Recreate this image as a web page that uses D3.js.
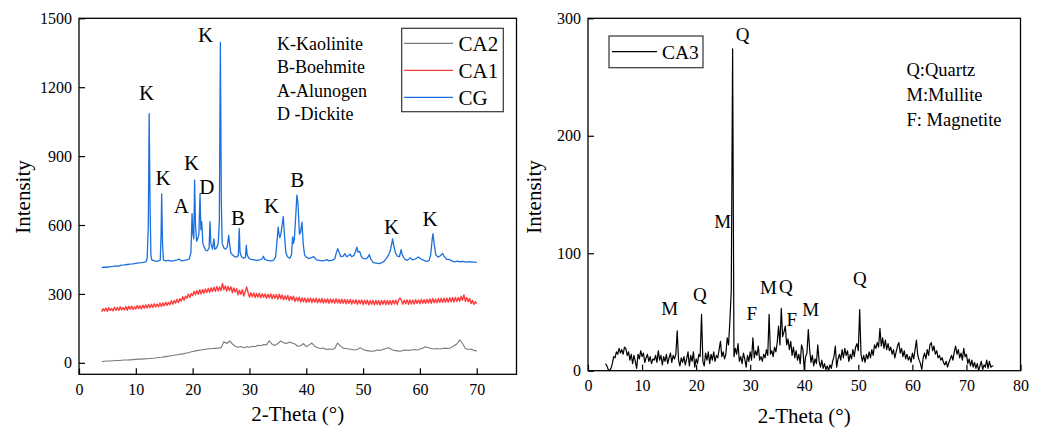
<!DOCTYPE html>
<html><head><meta charset="utf-8">
<script src="https://cdn.jsdelivr.net/npm/d3@7"></script>
<style>body{margin:0;background:#fff} svg{display:block}</style>
</head><body><svg id="c" width="1037" height="429"></svg>
<script>
// ---------------- DATA ----------------
const leftXTicks = [0,10,20,30,40,50,60,70];
const leftYTicks = [0,300,600,900,1200,1500];
const rightXTicks = [0,10,20,30,40,50,60,70,80];
const rightYTicks = [0,100,200,300];
const leftSeries = ["CA2","CA1","CG"];
const rightSeries = ["CA3"];
const phaseKeyLeft = ["K-Kaolinite","B-Boehmite","A-Alunogen","D -Dickite"];
const phaseKeyRight = ["Q:Quartz","M:Mullite","F: Magnetite"];

// CG (blue): [2-theta, intensity]
const cgData = [[4,415],[4.5,417],[5,416],[5.5,419],[6,420],[6.5,422],[7,421],[7.5,425],[8,426],[8.5,428],[9,430],[9.5,431],[10,433],[10.5,435],[11,436],[11.5,438],[11.8,440],[12.0,455],[12.2,600],[12.35,1085],[12.5,700],[12.65,470],[12.8,448],[13.2,445],[13.6,442],[14.0,444],[14.3,447],[14.45,560],[14.55,735],[14.7,520],[14.85,448],[15.2,444],[15.7,446],[16.2,443],[16.7,445],[17.2,447],[17.6,452],[18.0,444],[18.5,446],[19.0,448],[19.4,452],[19.7,480],[19.9,650],[20.05,560],[20.2,540],[20.35,795],[20.5,600],[20.7,530],[20.9,540],[21.1,560],[21.3,735],[21.45,580],[21.6,615],[21.8,520],[22.0,505],[22.3,490],[22.6,488],[22.9,500],[23.05,615],[23.2,520],[23.5,495],[23.75,540],[23.9,495],[24.2,500],[24.5,520],[24.7,620],[24.88,1395],[25.05,700],[25.2,520],[25.5,500],[25.8,495],[26.1,505],[26.35,555],[26.5,520],[26.7,480],[27.0,470],[27.4,462],[27.8,460],[28.05,470],[28.2,585],[28.35,480],[28.6,462],[29.0,455],[29.3,460],[29.45,512],[29.6,470],[29.9,455],[30.3,450],[30.8,448],[31.3,446],[31.8,448],[32.2,452],[32.45,464],[32.7,450],[33.2,446],[33.7,444],[34.2,446],[34.6,460],[34.9,545],[35.05,591],[35.2,560],[35.35,545],[35.5,555],[35.75,600],[35.95,637],[36.15,560],[36.4,480],[36.7,462],[37.1,455],[37.4,470],[37.6,548],[37.75,520],[37.9,540],[38.1,620],[38.35,730],[38.55,690],[38.8,560],[39.0,570],[39.25,612],[39.45,520],[39.7,470],[40.0,460],[40.4,454],[40.9,458],[41.3,462],[41.8,448],[42.3,446],[42.8,444],[43.3,446],[43.6,449],[44.0,444],[44.5,446],[45.0,452],[45.3,480],[45.55,497],[45.8,480],[46.1,462],[46.5,465],[46.8,476],[47.1,462],[47.4,466],[47.7,473],[48.0,462],[48.4,468],[48.75,490],[48.9,504],[49.1,482],[49.4,485],[49.7,462],[50.0,455],[50.4,452],[50.8,458],[51.1,471],[51.35,452],[51.8,436],[52.3,434],[52.8,432],[53.3,436],[53.7,442],[54.1,455],[54.5,470],[54.8,490],[55.05,520],[55.2,540],[55.4,510],[55.7,478],[56.0,465],[56.4,462],[56.7,493],[56.9,470],[57.3,452],[57.8,446],[58.3,458],[58.7,448],[59.2,452],[59.7,461],[60.2,452],[60.7,446],[61.2,442],[61.6,445],[61.9,470],[62.15,535],[62.3,562],[62.5,520],[62.8,470],[63.2,460],[63.6,466],[64.0,476],[64.3,462],[64.7,450],[65.2,450],[65.6,444],[66.1,440],[66.6,443],[67.1,440],[67.6,442],[68.1,438],[68.6,441],[69.1,439],[69.6,438],[70.0,437]];

// CA1 (red): intensities on a 0.25 degree grid from 4 to 70
const ca1Start = 4, ca1Step = 0.25;
const ca1Values = [
222,236,226,238, 224,240,228,236, 226,242,229,241, 228,244,230,240, 231,245,229,246,
233,247,232,244, 234,250,236,248, 235,251,238,252, 239,254,240,255, 241,257,243,256,
244,260,245,261, 248,264,250,263, 253,270,255,271, 260,277,262,279, 269,288,272,290,
281,299,284,302, 292,311,296,314, 298,318,300,319, 303,322,306,324, 307,327,310,329,
311,332,313,330, 314,346,318,335, 312,333,315,331, 305,326,308,324, 296,316,298,318,
291,309,330,306, 286,305,288,304, 284,302,286,303, 283,301,285,300, 281,299,283,300,
279,297,281,298, 277,299,279,295, 274,292,276,293, 271,289,273,290, 267,285,269,286,
264,283,266,282, 263,281,265,282, 262,280,264,281, 261,279,263,280, 260,278,262,279,
259,278,261,277, 259,279,260,277, 258,277,259,276, 257,275,259,276, 256,274,258,275,
255,273,257,274, 254,272,256,273, 253,271,255,272, 253,272,254,271, 252,271,255,272,
253,272,254,271, 254,272,256,273, 254,274,282,273, 255,273,257,274, 255,274,256,273,
256,275,258,274, 257,276,259,275, 258,277,260,278, 259,280,261,278, 261,280,263,281,
262,281,264,282, 264,283,266,284, 265,285,267,284, 268,290,272,296, 268,284,266,280,
258,272,254,266, 258];

// CA2 (grey): intensities on a 0.5 degree grid from 4 to 70
const ca2Start = 4, ca2Step = 0.5;
const ca2Values = [
6,7, 8,8, 9,10, 10,11, 12,12, 13,14, 15,16, 16,17, 18,19, 20,21,
23,24, 26,28, 30,32, 34,36, 38,40, 43,46, 49,52, 54,56, 58,60, 61,62,
63,64, 66,92, 84,95, 82,72, 68,71, 66,70, 68,72, 70,76, 74,80, 78,96,
80,76, 84,95, 88,84, 90,86, 82,72, 74,84, 70,78, 86,72, 66,62, 64,58,
60,58, 62,86, 74,64, 62,60, 58,56, 58,66, 58,54, 52,50, 52,56, 54,58,
62,66, 58,54, 52,50, 54,56, 54,56, 58,56, 60,64, 70,66, 62,60, 62,60,
62,64, 62,66, 74,82, 100,84, 62,58, 60,54, 52];

// CA3 (black): intensities on a 0.25 degree grid from 3.25 to 75
const ca3Start = 3.25, ca3Step = 0.25;
const ca3Values = [
6,4,1,
0,2,6,12, 11,16,14,19, 15,18,14,20, 19,13,16,9, 14,6,13,8, 2,14,10,17,
12,15,7,11, 14,8,12,6, 10,9,13,7, 17,9,13,5, 12,8,14,6, 11,15,7,13,
10,14,34,9, 4,11,7,12, 5,10,16,4, 13,8,16,3, 10,6,14,12, 48,8,4,15,
9,16,6,14, 9,16,8,13, 11,18,25,12, 16,10,14,28, 22,43,68,274, 12,19,14,23,
8,12,6,15, 10,3,13,8, 16,9,28,11, 17,13,21,9, 12,8,14,11, 18,13,48,14,
17,12,20,16, 24,38,22,53, 29,33,38,22, 27,18,25,13, 20,11,17,9, 14,6,22,18,
1,12,15,35, 18,7,13,4, 10,6,22,8, 3,9,2,6, 1,4,0,5, 2,8,12,21,
3,10,14,9, 18,11,19,13, 17,8,14,10, 18,12,20,23, 17,52,14,8, 13,7,14,10,
16,11,18,13, 22,19,24,20, 36,21,28,19, 26,18,23,17, 20,14,18,11, 16,21,24,15,
19,12,17,10, 14,9,12,7, 15,10,18,26, 13,9,6,1, 11,15,10,18, 13,22,24,17,
21,14,17,11, 13,9,11,7, 5,8,3,7, 10,13,9,16, 21,14,18,11, 15,9,19,12,
14,6,10,4, 9,3,7,2, 6,0,4,8, 1,5,3,9, 2,8,3,4,
4];

// peak annotations [label, 2-theta, intensity]
const leftPeaks = [["K",11.9,1176],["K",14.8,808],["A",18.0,685],["K",19.8,873],["D",22.5,767],["K",22.3,1429],["B",28.0,631],["K",33.9,685],["B",38.4,796],["K",55.0,595],["K",61.8,627]];
const rightPeaks = [["Q",28.6,286],["M",24.9,127],["M",15.1,53],["Q",20.7,65],["F",30.3,49],["M",33.4,71],["Q",36.6,72],["F",37.7,44],["M",41.2,52],["Q",50.3,79]];

// ---------------- DRAW ----------------
const SERIF = "Liberation Serif";
const colors = {CA2:"#7a7a7a", CA1:"#ff3c3c", CG:"#1c6fde", CA3:"#000"};
const svg = d3.select("#c");
const grid = (start, step, vals) => vals.map((v,i)=>[start+i*step, v]);
function txt(parent){ return parent.append("text").style("font-family", SERIF).attr("fill","#000"); }

function panel(box, xDom, yDom, xTicks, yTicks){
  const x = d3.scaleLinear().domain(xDom).range([box.x0, box.x1]);
  const y = d3.scaleLinear().domain(yDom).range([box.y1, box.y0]);
  const g = svg.append("g");
  const ax = g.append("g").attr("transform",`translate(0,${box.y1})`)
    .call(d3.axisBottom(x).tickValues(xTicks).tickFormat(d3.format("d")).tickSizeInner(-6).tickSizeOuter(0).tickPadding(9));
  const ay = g.append("g").attr("transform",`translate(${box.x0},0)`)
    .call(d3.axisLeft(y).tickValues(yTicks).tickFormat(d3.format("d")).tickSizeInner(-6).tickSizeOuter(0).tickPadding(7));
  [ax,ay].forEach(a=>{
    a.attr("font-family",SERIF).attr("font-size",16);
    a.select(".domain").remove();
    a.selectAll("line").attr("stroke","#000").attr("stroke-width",1.2);
    a.selectAll("text").style("font-family",SERIF).attr("font-size",16).attr("fill","#000");
  });
  g.append("rect").attr("x",box.x0).attr("y",box.y0).attr("width",box.x1-box.x0).attr("height",box.y1-box.y0)
    .attr("fill","none").attr("stroke","#000").attr("stroke-width",1.3);
  return {x,y,g};
}

function line(p, data, color, w){
  p.g.append("path").datum(data).attr("fill","none").attr("stroke",color).attr("stroke-width",w)
    .attr("stroke-linejoin","round")
    .attr("d", d3.line().x(d=>p.x(d[0])).y(d=>p.y(d[1])));
}

// Left panel
const PL = panel({x0:79, x1:516.5, y0:18.3, y1:374.3}, [0,77], [-50,1500], leftXTicks, leftYTicks);
line(PL, grid(ca2Start, ca2Step, ca2Values), colors.CA2, 1.1);
line(PL, grid(ca1Start, ca1Step, ca1Values), colors.CA1, 1.4);
line(PL, cgData, colors.CG, 1.3);
leftPeaks.forEach(d=>{
  txt(PL.g).attr("x",PL.x(d[1])).attr("y",PL.y(d[2])).attr("text-anchor","middle").attr("dy","0.35em")
    .attr("font-size",21).text(d[0]);
});
phaseKeyLeft.forEach((t,i)=>{
  txt(PL.g).attr("x",277).attr("y",50+i*23.3).attr("font-size",18).text(t);
});
PL.g.append("rect").attr("x",401.7).attr("y",28.3).attr("width",101.6).attr("height",83.4)
  .attr("fill","#fff").attr("stroke","#333").attr("stroke-width",1.2);
leftSeries.forEach((s,i)=>{
  const yy = 43.3 + i*27;
  PL.g.append("line").attr("x1",404).attr("x2",453).attr("y1",yy).attr("y2",yy).attr("stroke",colors[s]).attr("stroke-width",1.3);
  txt(PL.g).attr("x",458.5).attr("y",yy).attr("dy","0.35em").attr("font-size",21).text(s);
});
txt(svg).attr("transform","translate(30,197) rotate(-90)").attr("text-anchor","middle").attr("font-size",21).text("Intensity");
txt(svg).attr("x",(79+516.5)/2).attr("y",421).attr("text-anchor","middle").attr("font-size",21).text("2-Theta (°)");

// Right panel
const PR = panel({x0:588, x1:1020.5, y0:18.3, y1:370.7}, [0,80], [0,300], rightXTicks, rightYTicks);
line(PR, grid(ca3Start, ca3Step, ca3Values), colors.CA3, 1.2);
rightPeaks.forEach(d=>{
  txt(PR.g).attr("x",PR.x(d[1])).attr("y",PR.y(d[2])).attr("text-anchor","middle").attr("dy","0.35em")
    .attr("font-size",19).text(d[0]);
});
phaseKeyRight.forEach((t,i)=>{
  txt(PR.g).attr("x",906.5).attr("y",76+i*25).attr("font-size",18.5).text(t);
});
PR.g.append("rect").attr("x",609).attr("y",36).attr("width",94).attr("height",31.7)
  .attr("fill","#fff").attr("stroke","#333").attr("stroke-width",1.2);
rightSeries.forEach((s,i)=>{
  const yy = 51.7;
  PR.g.append("line").attr("x1",612).attr("x2",657).attr("y1",yy).attr("y2",yy).attr("stroke",colors[s]).attr("stroke-width",1.3);
  txt(PR.g).attr("x",662).attr("y",yy).attr("dy","0.35em").attr("font-size",19.5).text(s);
});
txt(svg).attr("transform","translate(541,197) rotate(-90)").attr("text-anchor","middle").attr("font-size",21).text("Intensity");
txt(svg).attr("x",(588+1020.5)/2).attr("y",423).attr("text-anchor","middle").attr("font-size",21).text("2-Theta (°)");
</script></body></html>
